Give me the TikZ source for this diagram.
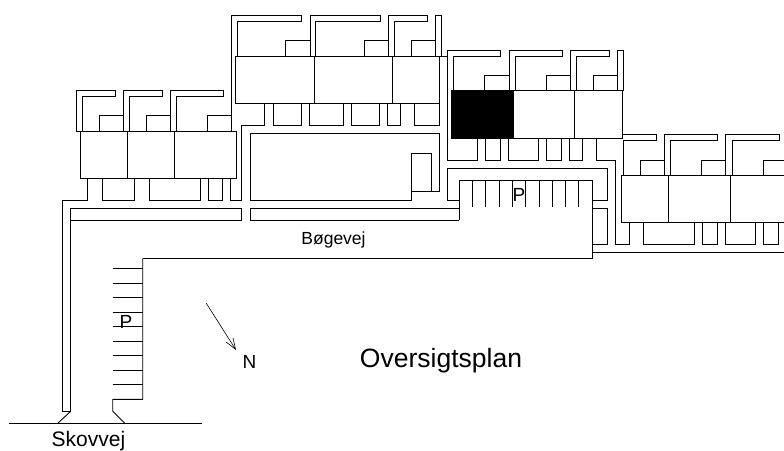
\documentclass[tikz,border=0pt]{standalone}
\usepackage{fontspec}
\setmainfont{Liberation Sans}
\usetikzlibrary{positioning, arrows.meta}

\tikzset{
  wall/.style={draw=black, line width=0.9pt, line join=miter},
  thin wall/.style={draw=black, line width=0.7pt}
}

\begin{document}
\begin{tikzpicture}[x=1pt, y=-1pt, every node/.style={inner sep=0pt}]
    \useasboundingbox (0,0) rectangle (784,450);
    % Houses, first row
    \draw[wall] (76,131) -- (80,131);
    \draw[wall] (80,131) rectangle (236,178);
    \draw[wall] (127.5,131) -- (127.5,178);
    \draw[wall] (174.5,131) -- (174.5,178);
    \foreach \a/\t/\i in {76/115/82, 123/162/129, 170/223/176}
        \draw[wall] (\a,131) |- (\t,90) -- (\t,96) -| (\i,131);
    \foreach \a/\b in {99/123, 146/170, 207.5/231.5}
        \draw[wall] (\a,131) |- (\b,115);
    \foreach \a/\b in {102/134.7, 149/200, 208/222.7}
        \draw[wall] (\a,178) |- (\b,200) -- (\b,178);
    % Houses, second row
    \draw[wall] (235.7,56) rectangle (439.3,103.3);
    \draw[wall] (314.3,56) -- (314.3,103.3);
    \draw[wall] (392.7,56) -- (392.7,103.3);
    \draw[wall] (231.5,131) -- (231.5,15) -| (301.7,21.3) -| (237.3,56);
    \foreach \a/\t/\i in {310/380.3/315.7, 388.3/427/394.3}
        \draw[wall] (\a,56) |- (\t,15) -- (\t,21.3) -| (\i,56);
    \draw[wall] (435.3,56) |- (441.7,15) -- (441.7,56);
    \draw[wall] (439.3,56) -- (447.7,56);
    \foreach \a/\b in {285.7/310, 364/388.3, 411/435.3}
        \draw[wall] (\a,56) |- (\b,40);
    \foreach \a/\b in {273/301, 309/343.3, 351.3/379.3, 387.7/400, 414/439.3}
        \draw[wall] (\a,103.3) |- (\b,125) -- (\b,103.3);
    % Houses, third row
    \draw[wall, fill=black] (451.3,90.7) rectangle (513.3,138.3);
    \draw[wall] (513.3,90.7) rectangle (622,138.3);
    \draw[wall] (574.7,90.7) -- (574.7,138.3);
    \draw[wall] (477.3,138.3) |- (447.7,160) |- (500.7,50) -- (500.7,56) -| (453.3,90.7);
    \foreach \a/\t/\i in {509/562.3/515, 570.3/609.3/576.3}
        \draw[wall] (\a,90.7) |- (\t,50) -- (\t,56) -| (\i,90.7);
    \draw[wall] (617.3,90.7) |- (623.7,50) -- (623.7,90.7);
    \foreach \a/\b in {484.7/509, 546.3/570.3, 593.7/617.3}
        \draw[wall] (\a,90.7) |- (\b,75.3);
    \foreach \a/\b in {485.3/500.3, 508.3/538.7, 546.7/561.3, 569.7/582.3}
        \draw[wall] (\a,138.3) |- (\b,160) -- (\b,138.3);
    \draw[wall] (596.3,138.3) |- (615.7,160) |- (629.3,244.5) -- (629.3,222.3);
    % Houses, fourth row
    \draw[wall] (784,175.7) -- (621.7,175.7) |- (784,222.3);
    \draw[wall] (668.7,175.7) -- (668.7,222.3);
    \draw[wall] (730,175.7) -- (730,222.3);
    \draw[wall] (621.7,134.7) -- (656,134.7) -- (656,140.7) -| (623.3,175.7);
    \foreach \a/\t/\i in {664.3/717.7/670.7, 725.7/779.3/732}
        \draw[wall] (\a,175.7) |- (\t,134.7) -- (\t,140.7) -| (\i,175.7);
    \foreach \a/\b in {640.3/664.3, 701.7/725.7, 763.3/784}
        \draw[wall] (\a,175.7) |- (\b,160);
    \foreach \a/\b in {643.3/694.3, 702.3/717.3, 725.3/755.7, 763.7/778.7}
        \draw[wall] (\a,222.3) |- (\b,244.5) -- (\b,222.3);
    % Paths between the houses
    \draw[wall] (87.7,178) |- (62,200) |- (70.7,411.3) -- (70.7,208) -- (241.7,208) -- (241.7,220);
    \draw[wall] (70.7,220) -- (241.7,220);
    \draw[wall] (230.7,178) |- (241.7,200) |- (264.7,125) -- (264.7,103.3);
    \draw[wall] (250,220) |- (459.3,208);
    \draw[wall] (250,220) -- (459.3,220);
    % Green with the small building
    \draw[wall] (411.7,191.7) -- (411.7,200) -| (250,133) -| (439.3,191.7) -- (411.7,191.7) |- (431.7,153.7) -- (431.7,191.7);
    % Parking at the third row
    \draw[wall] (459.3,200) -| (447.7,168.3) -| (607.3,200) -- (592.7,200);
    \draw[wall] (459.3,220.3) |- (592.7,180.3) |- (142.7,258.3);
    \foreach \x in {472.3,485.7,499,512.3,525.7,539,552.3,565.7,578.3}
        \draw[thin wall] (\x,180.3) -- (\x,207.3);
    \draw[wall] (592.7,208.3) -| (607.3,244.5) -- (592.7,244.5);
    \draw[wall] (592.7,252.7) -- (784,252.7);
    % Road down to Skovvej
    \draw[wall] (142.7,258.3) |- (112.7,399.3) -- (112.7,411.3) -- (125.3,423.7);
    \draw[wall] (70.7,411.3) -- (57.3,423.7);
    \draw[wall] (9.3,423.7) -- (201.7,423.7);
    \foreach \y in {268.3,283,297.3,312,326.7,341,355.7,370,384.7}
        \draw[thin wall] (112.7,\y) -- (142.7,\y);
    % North arrow
    \coordinate (arrowstart) at (206.3,303.3);
    \node[font=\fontsize{19}{19}\selectfont] (north) at (249.5,362) {N};
    \coordinate (arrowend) at (236,350);
    \draw[-{Straight Barb[length=11pt, width=8pt]}, line width=0.6pt] (arrowstart) -- (arrowend);
    % Labels
    \node[font=\fontsize{19}{19}\selectfont] (parkb) at (126,321.5) {P};
    \node[font=\fontsize{19}{19}\selectfont] (parka) at (519,195) {P};
    \node[font=\fontsize{17.5}{17.5}\selectfont] (road) at (333.5,240) {Bøgevej};
    \node[font=\fontsize{21}{21}\selectfont] (mainroad) at (88.5,441) {Skovvej};
    \node[font=\fontsize{26.5}{26.5}\selectfont] (title) at (441,361) {Oversigtsplan};
\end{tikzpicture}
\end{document}
